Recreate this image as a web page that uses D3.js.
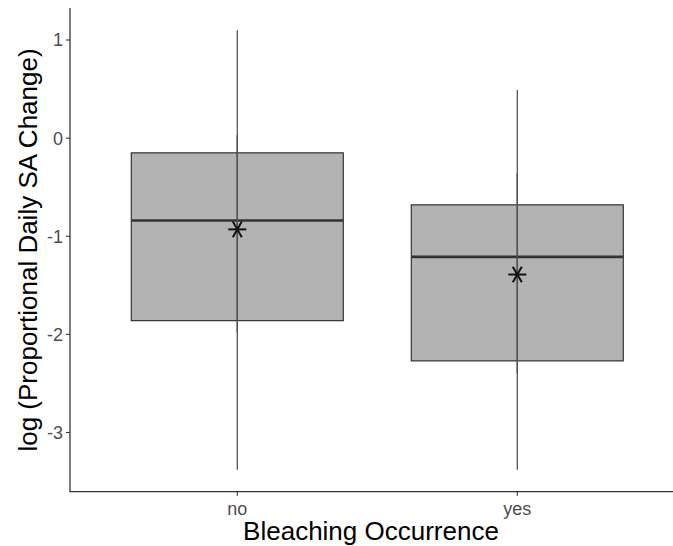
<!DOCTYPE html>
<html>
<head>
<meta charset="utf-8">
<script src="https://cdn.jsdelivr.net/npm/d3@7"></script>
<style>
  body { margin: 0; background: #fff; }
  text { font-family: "Liberation Sans", Arial, sans-serif; }
</style>
</head>
<body>
<div id="chart"></div>
<script>
// data
let groups = ["no", "yes"];
let q1 = [-1.86, -2.27];
let medians = [-0.84, -1.21];
let q3 = [-0.15, -0.68];
let whiskerLow = [-1.98, -2.4];
let whiskerHigh = [0.03, -0.36];
let rangeMin = [-3.38, -3.38];
let rangeMax = [1.1, 0.49];
let means = [-0.93, -1.39];
let yTicks = [1, 0, -1, -2, -3];

let width = 673, height = 546;
let margin = { top: 8, left: 70, bottom: 54 };
let panelBottom = height - margin.bottom - 0.3;

let svg = d3.select("#chart").append("svg")
  .attr("width", width).attr("height", height);

// y scale: 98 px per unit, 1 -> 40
let yScale = d3.scaleLinear().domain([1, -3]).range([40, 432.5]);
// x: discrete positions 1, 2
let xScale = d3.scaleLinear().domain([1, 2]).range([237.3, 517.3]);
let unit = xScale(2) - xScale(1);
let boxW = 0.757 * unit;

let data = groups.map(function (g, i) {
  return { g: g, pos: i + 1, q1: q1[i], med: medians[i], q3: q3[i],
    wl: whiskerLow[i], wh: whiskerHigh[i], mn: rangeMin[i], mx: rangeMax[i], mean: means[i] };
});

let g = svg.append("g");

// boxes
g.selectAll(".box").data(data).enter().append("rect")
  .attr("x", d => xScale(d.pos) - boxW / 2)
  .attr("width", boxW)
  .attr("y", d => yScale(d.q3))
  .attr("height", d => yScale(d.q1) - yScale(d.q3))
  .attr("fill", "#b3b3b3")
  .attr("stroke", "#333")
  .attr("stroke-width", 1.2);

// medians
g.selectAll(".med").data(data).enter().append("line")
  .attr("x1", d => xScale(d.pos) - boxW / 2)
  .attr("x2", d => xScale(d.pos) + boxW / 2)
  .attr("y1", d => yScale(d.med)).attr("y2", d => yScale(d.med))
  .attr("stroke", "#333").attr("stroke-width", 2.6);

// whiskers near the box
g.selectAll(".wh").data(data).enter().append("line")
  .attr("x1", d => xScale(d.pos)).attr("x2", d => xScale(d.pos))
  .attr("y1", d => yScale(d.wh)).attr("y2", d => yScale(d.wl))
  .attr("stroke", "#222").attr("stroke-width", 1.3);

// full range line on top
g.selectAll(".range").data(data).enter().append("line")
  .attr("x1", d => xScale(d.pos)).attr("x2", d => xScale(d.pos))
  .attr("y1", d => yScale(d.mx)).attr("y2", d => yScale(d.mn))
  .attr("stroke", "#555").attr("stroke-width", 1.3);

// mean asterisks
let star = g.selectAll(".mean").data(data).enter().append("g")
  .attr("transform", d => "translate(" + xScale(d.pos) + "," + yScale(d.mean) + ")");
[0, 60, 120].forEach(function (a) {
  star.append("line")
    .attr("x1", 0).attr("y1", -9).attr("x2", 0).attr("y2", 9)
    .attr("transform", "rotate(" + (a + 90) + ")")
    .attr("stroke", "#111").attr("stroke-width", 2);
});

// axes
let axisColor = "#333";
svg.append("line")
  .attr("x1", margin.left).attr("x2", margin.left)
  .attr("y1", margin.top).attr("y2", panelBottom)
  .attr("stroke", axisColor).attr("stroke-width", 1.3);
svg.append("line")
  .attr("x1", margin.left - 0.6).attr("x2", width)
  .attr("y1", panelBottom).attr("y2", panelBottom)
  .attr("stroke", axisColor).attr("stroke-width", 1.3);

let yAxis = svg.append("g");
yAxis.selectAll("line").data(yTicks).enter().append("line")
  .attr("x1", margin.left - 4).attr("x2", margin.left)
  .attr("y1", d => yScale(d)).attr("y2", d => yScale(d))
  .attr("stroke", axisColor).attr("stroke-width", 1.1);
yAxis.selectAll("text").data(yTicks).enter().append("text")
  .attr("x", margin.left - 7).attr("y", d => yScale(d))
  .attr("dy", "0.36em").attr("text-anchor", "end")
  .attr("font-size", 18).attr("fill", "#4d4d4d")
  .text(d => d);

let xAxis = svg.append("g");
xAxis.selectAll("line").data(data).enter().append("line")
  .attr("x1", d => xScale(d.pos)).attr("x2", d => xScale(d.pos))
  .attr("y1", panelBottom).attr("y2", panelBottom + 4)
  .attr("stroke", axisColor).attr("stroke-width", 1.1);
xAxis.selectAll("text").data(data).enter().append("text")
  .attr("x", d => xScale(d.pos)).attr("y", panelBottom + 23)
  .attr("text-anchor", "middle")
  .attr("font-size", 18).attr("fill", "#4d4d4d")
  .text(d => d.g);

// titles
svg.append("text")
  .attr("x", 371).attr("y", 540)
  .attr("text-anchor", "middle")
  .attr("font-size", 26).attr("fill", "#000")
  .text("Bleaching Occurrence");
svg.append("text")
  .attr("transform", "translate(37," + 250 + ") rotate(-90)")
  .attr("text-anchor", "middle")
  .attr("font-size", 26).attr("fill", "#000")
  .text("log (Proportional Daily SA Change)");
</script>
</body>
</html>
